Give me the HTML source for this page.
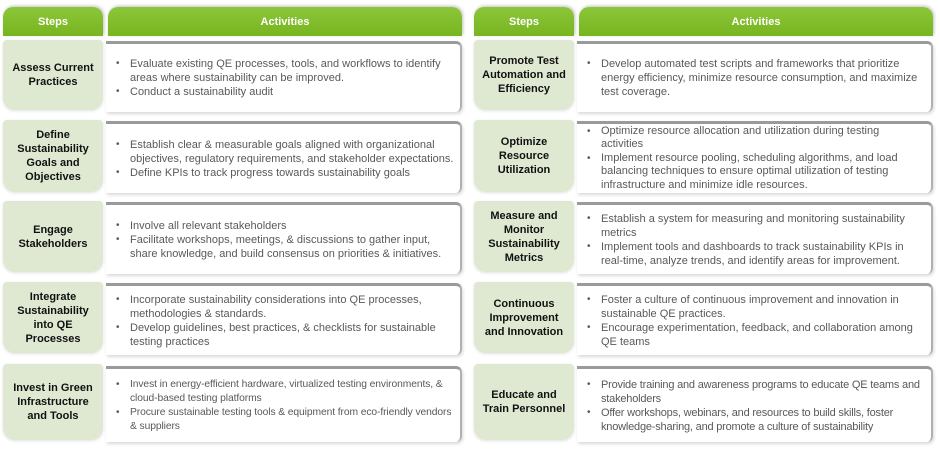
<!DOCTYPE html>
<html><head><meta charset="utf-8"><style>
*{margin:0;padding:0;box-sizing:border-box}
body{width:940px;height:450px;background:#fff;position:relative;overflow:hidden;font-family:"Liberation Sans",Arial,sans-serif}
.h{position:absolute;background:linear-gradient(#8cc63a,#78b51f);color:#fff;font-weight:bold;font-size:11px;display:flex;align-items:center;justify-content:center;border-radius:10px 10px 0 0;box-shadow:1px -1px 3px rgba(0,0,0,.25)}
.s{position:absolute;background:#dfe9d2;border-radius:4px 4px 12px 12px;font-weight:bold;font-size:11px;color:#111;display:flex;align-items:center;justify-content:center;text-align:center;line-height:14px;box-shadow:0 1px 3px rgba(0,0,0,.12)}
.a{position:absolute;background:#fff;border-top:3px solid #9a9a9a;border-right:2px solid #b0b0b0;border-radius:0 6px 6px 0;box-shadow:1px 2px 3px rgba(0,0,0,.15);font-size:11px;color:#595959;line-height:14px;display:flex;align-items:center;padding-left:10px;padding-right:2px;white-space:nowrap;overflow:hidden}
ul{list-style:none}
li{position:relative;padding-left:14px}
li:before{content:"•";position:absolute;left:0;font-size:10px}
.n{font-size:10.3px;letter-spacing:-0.1px}
.m{letter-spacing:-0.2px}
.c{line-height:13.5px}
</style></head><body>
<div class="h" style="left:3px;top:7px;width:100px;height:29px">Steps</div>
<div class="h" style="left:108px;top:7px;width:354px;height:29px">Activities</div>
<div class="h" style="left:474px;top:7px;width:100px;height:29px">Steps</div>
<div class="h" style="left:579px;top:7px;width:354px;height:29px">Activities</div>

<div class="s" style="left:3px;top:40px;width:100px;height:70px">Assess Current<br>Practices</div>
<div class="a" style="left:106px;top:41px;width:356px;height:71px"><ul><li>Evaluate existing QE processes, tools, and workflows to identify<br>areas where sustainability can be improved.</li><li>Conduct a sustainability audit</li></ul></div>

<div class="s" style="left:3px;top:120px;width:100px;height:72px">Define<br>Sustainability<br>Goals and<br>Objectives</div>
<div class="a" style="left:106px;top:121px;width:356px;height:72px"><ul><li>Establish clear &amp; measurable goals aligned with organizational<br>objectives, regulatory requirements, and stakeholder expectations.</li><li>Define KPIs to track progress towards sustainability goals</li></ul></div>

<div class="s" style="left:3px;top:201px;width:100px;height:71px">Engage<br>Stakeholders</div>
<div class="a" style="left:106px;top:202px;width:356px;height:72px"><ul><li>Involve all relevant stakeholders</li><li>Facilitate workshops, meetings, &amp; discussions to gather input,<br>share knowledge, and build consensus on priorities &amp; initiatives.</li></ul></div>

<div class="s" style="left:3px;top:282px;width:100px;height:71px">Integrate<br>Sustainability<br>into QE<br>Processes</div>
<div class="a" style="left:106px;top:283px;width:356px;height:72px"><ul><li>Incorporate sustainability considerations into QE processes,<br>methodologies &amp; standards.</li><li>Develop guidelines, best practices, &amp; checklists for sustainable<br>testing practices</li></ul></div>

<div class="s" style="left:3px;top:364px;width:100px;height:76px">Invest in Green<br>Infrastructure<br>and Tools</div>
<div class="a n" style="left:106px;top:366px;width:356px;height:76px"><ul><li>Invest in energy-efficient hardware, virtualized testing environments, &amp;<br>cloud-based testing platforms</li><li>Procure sustainable testing tools &amp; equipment from eco-friendly vendors<br>&amp; suppliers</li></ul></div>

<div class="s" style="left:474px;top:40px;width:100px;height:70px">Promote Test<br>Automation and<br>Efficiency</div>
<div class="a" style="left:577px;top:41px;width:356px;height:71px"><ul><li>Develop automated test scripts and frameworks that prioritize<br>energy efficiency, minimize resource consumption, and maximize<br>test coverage.</li></ul></div>

<div class="s" style="left:474px;top:120px;width:100px;height:72px">Optimize<br>Resource<br>Utilization</div>
<div class="a c" style="left:577px;top:121px;width:356px;height:72px"><ul><li>Optimize resource allocation and utilization during testing<br>activities</li><li>Implement resource pooling, scheduling algorithms, and load<br>balancing techniques to ensure optimal utilization of testing<br>infrastructure and minimize idle resources.</li></ul></div>

<div class="s" style="left:474px;top:201px;width:100px;height:71px">Measure and<br>Monitor<br>Sustainability<br>Metrics</div>
<div class="a" style="left:577px;top:202px;width:356px;height:72px"><ul><li>Establish a system for measuring and monitoring sustainability<br>metrics</li><li>Implement tools and dashboards to track sustainability KPIs in<br>real-time, analyze trends, and identify areas for improvement.</li></ul></div>

<div class="s" style="left:474px;top:282px;width:100px;height:71px">Continuous<br>Improvement<br>and Innovation</div>
<div class="a" style="left:577px;top:283px;width:356px;height:72px"><ul><li>Foster a culture of continuous improvement and innovation in<br>sustainable QE practices.</li><li>Encourage experimentation, feedback, and collaboration among<br>QE teams</li></ul></div>

<div class="s" style="left:474px;top:364px;width:100px;height:76px">Educate and<br>Train Personnel</div>
<div class="a m" style="left:577px;top:366px;width:356px;height:76px"><ul><li>Provide training and awareness programs to educate QE teams and<br>stakeholders</li><li>Offer workshops, webinars, and resources to build skills, foster<br>knowledge-sharing, and promote a culture of sustainability</li></ul></div>
</body></html>
